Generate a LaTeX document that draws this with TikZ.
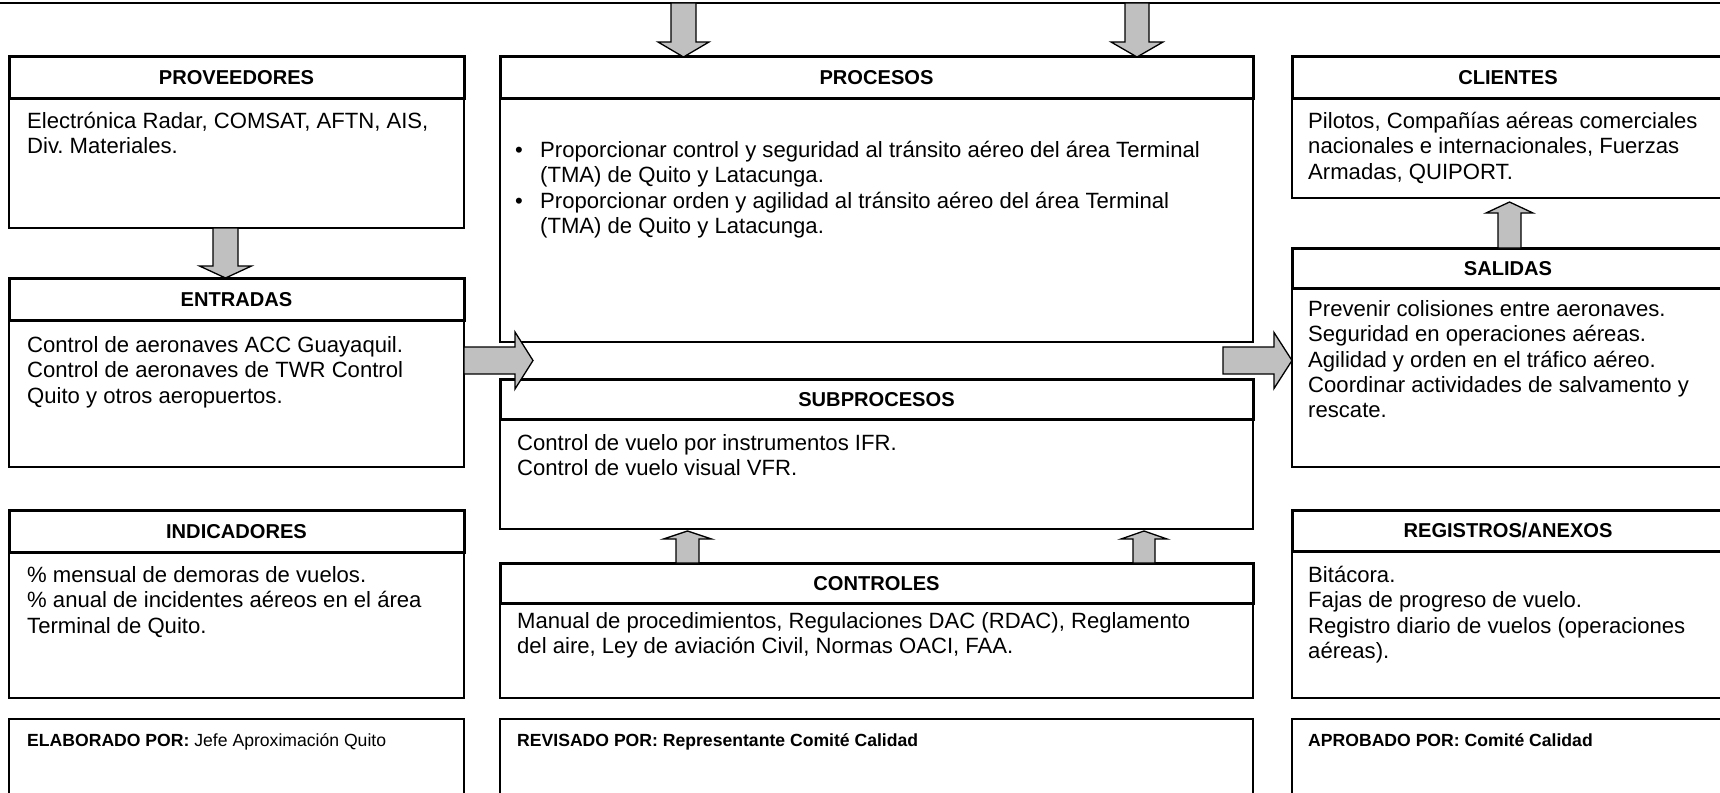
\documentclass[tikz,border=0pt]{standalone}
\usepackage{fontspec}
\setmainfont{Liberation Sans}
\usetikzlibrary{calc}
\frenchspacing

\definecolor{arrowgray}{RGB}{192,192,192}

\newcommand\bodyfont{\fontsize{22.1}{25.4}\selectfont}
\newcommand\headfont{\fontsize{20.1}{24}\selectfont\bfseries}
\newcommand\footfont{\fontsize{17.6}{21}\selectfont}
% first-line struts: fix the distance from the top of a text block to its first baseline
\newcommand\fst{\rule{0pt}{21pt}}
\newcommand\ffst{\rule{0pt}{16.7pt}}

\tikzset{
  hdrbox/.style={draw, line width=3pt, fill=white, inner sep=0pt, outer sep=0pt,
    anchor=north west, font=\headfont, text height=14.4pt, text depth=0pt},
  bodybox/.style={draw, line width=1.4pt, fill=white, inner sep=0pt, outer sep=0pt,
    anchor=north west},
  bodytext/.style={anchor=north west, inner sep=0pt, align=left, font=\bodyfont},
  foottext/.style={anchor=north west, inner sep=0pt, align=left, font=\footfont},
  blk/.style={draw, line width=1.3pt, fill=arrowgray, line join=miter},
}

% vertical block arrow: x centre, tail, tip, shaft half width, head half width, head offset
\newcommand{\vblk}[6]{%
  \coordinate (bt) at (#1,0 |- #2);
  \coordinate (bh) at (#1,0 |- #3);
  \draw[blk] ($(bt)+(-#4,0)$) -- ($(bh)+(-#4,#6)$) -- ($(bh)+(-#5,#6)$) -- (bh)
    -- ($(bh)+(#5,#6)$) -- ($(bh)+(#4,#6)$) -- ($(bt)+(#4,0)$) -- cycle;}
% horizontal block arrow: y centre, tail, tip, shaft half height, head half height, head offset
\newcommand{\hblk}[6]{%
  \coordinate (bt) at (#2 |- 0,#1);
  \coordinate (bh) at (#3 |- 0,#1);
  \draw[blk] ($(bt)+(0,-#4)$) -- ($(bh)+(#6,-#4)$) -- ($(bh)+(#6,-#5)$) -- (bh)
    -- ($(bh)+(#6,#5)$) -- ($(bh)+(#6,#4)$) -- ($(bt)+(0,#4)$) -- cycle;}

\begin{document}
\begin{tikzpicture}[x=1pt, y=-1pt]
\useasboundingbox (0,0) rectangle (1720,792);

% frame above the diagram (only its lower edge is inside the page)
\node[bodybox, line width=1.8pt, minimum width=1740pt, minimum height=40pt, anchor=south west] (topbox) at (-10,3) {};

% ---------- left column ----------
\node[bodybox, minimum width=455pt, minimum height=130pt] (provB) at (9,98) {};
\node[hdrbox, minimum width=455pt, minimum height=41pt] (provH) at (9,57) {PROVEEDORES};
\node[bodytext] (provT) at (27,107) {\fst Electrónica Radar, COMSAT, AFTN, AIS,\\Div. Materiales.};

\node[bodybox, minimum width=455pt, minimum height=147pt] (entB) at (9,320) {};
\node[hdrbox, minimum width=455pt, minimum height=42pt] (entH) at (9,278) {ENTRADAS};
\node[bodytext] (entT) at (27,331) {\fst Control de aeronaves ACC Guayaquil.\\Control de aeronaves de TWR Control\\Quito y otros aeropuertos.};

\node[bodybox, minimum width=455pt, minimum height=146pt] (indB) at (9,552) {};
\node[hdrbox, minimum width=455pt, minimum height=42pt] (indH) at (9,510) {INDICADORES};
\node[bodytext] (indT) at (27,561) {\fst\% mensual de demoras de vuelos.\\\% anual de incidentes aéreos en el área\\Terminal de Quito.};

\node[bodybox, minimum width=455pt, minimum height=90pt] (elaB) at (9,719) {};
\node[foottext] (elaT) at (27,729.3) {\ffst\textbf{ELABORADO POR:} Jefe Aproximación Quito};

% ---------- middle column ----------
\node[bodybox, minimum width=753pt, minimum height=244pt] (procB) at (500,98) {};
\node[hdrbox, minimum width=753pt, minimum height=41pt] (procH) at (500,57) {PROCESOS};
\node[bodytext] (procT) at (515,136) {\fst\makebox[25pt][l]{\textbullet}Proporcionar control y seguridad al tránsito aéreo del área Terminal\\
\hspace*{25pt}(TMA) de Quito y Latacunga.\\
\makebox[25pt][l]{\textbullet}Proporcionar orden y agilidad al tránsito aéreo del área Terminal\\
\hspace*{25pt}(TMA) de Quito y Latacunga.};

\node[bodybox, minimum width=753pt, minimum height=110pt] (subB) at (500,419) {};
\node[hdrbox, minimum width=753pt, minimum height=40pt] (subH) at (500,379) {SUBPROCESOS};
\node[bodytext] (subT) at (517,429) {\fst Control de vuelo por instrumentos IFR.\\Control de vuelo visual VFR.};

\node[bodybox, minimum width=753pt, minimum height=95pt] (ctlB) at (500,603) {};
\node[hdrbox, minimum width=753pt, minimum height=40pt] (ctlH) at (500,563) {CONTROLES};
\node[bodytext] (ctlT) at (517,607) {\fst Manual de procedimientos, Regulaciones DAC (RDAC), Reglamento\\del aire, Ley de aviación Civil, Normas OACI, FAA.};

\node[bodybox, minimum width=753pt, minimum height=90pt] (revB) at (500,719) {};
\node[foottext] (revT) at (517,729.3) {\ffst\textbf{REVISADO POR: Representante Comité Calidad}};

% ---------- right column ----------
\node[bodybox, minimum width=432pt, minimum height=100pt] (cliB) at (1292,98) {};
\node[hdrbox, minimum width=432pt, minimum height=41pt] (cliH) at (1292,57) {CLIENTES};
\node[bodytext] (cliT) at (1308,107) {\fst Pilotos, Compañías aéreas comerciales\\nacionales e internacionales, Fuerzas\\Armadas, QUIPORT.};

\node[bodybox, minimum width=432pt, minimum height=179pt] (salB) at (1292,288) {};
\node[hdrbox, minimum width=432pt, minimum height=40pt] (salH) at (1292,248) {SALIDAS};
\node[bodytext] (salT) at (1308,295) {\fst Prevenir colisiones entre aeronaves.\\Seguridad en operaciones aéreas.\\Agilidad y orden en el tráfico aéreo.\\Coordinar actividades de salvamento y\\rescate.};

\node[bodybox, minimum width=432pt, minimum height=147pt] (regB) at (1292,551) {};
\node[hdrbox, minimum width=432pt, minimum height=41pt] (regH) at (1292,510) {REGISTROS/ANEXOS};
\node[bodytext] (regT) at (1308,561) {\fst Bitácora.\\Fajas de progreso de vuelo.\\Registro diario de vuelos (operaciones\\aéreas).};

\node[bodybox, minimum width=432pt, minimum height=90pt] (aprB) at (1292,719) {};
\node[foottext] (aprT) at (1308,729.3) {\ffst\textbf{APROBADO POR: Comité Calidad}};

% ---------- block arrows ----------
\coordinate (inTip) at (533,0);
\coordinate (outTail) at (1223,0);
\coordinate (cliTip) at (0,202);
\coordinate (subTip) at (0,531);

\vblk{683.5}{topbox.south}{procH.north}{12.5}{25.5}{-15}
\vblk{1137}{topbox.south}{procH.north}{12}{26}{-15}
\vblk{225.5}{provB.south}{entH.north}{12.5}{26}{-12}
\hblk{360.5}{entB.east}{inTip}{13.5}{28.5}{-18}
\hblk{360.5}{outTail}{salB.west}{13.5}{28}{-18}
\vblk{1509.5}{salH.north}{cliTip}{11.5}{23.5}{11}
\vblk{687.5}{ctlH.north}{subTip}{11.5}{24}{8}
\vblk{1144}{ctlH.north}{subTip}{11}{23}{8}

\end{tikzpicture}
\end{document}
